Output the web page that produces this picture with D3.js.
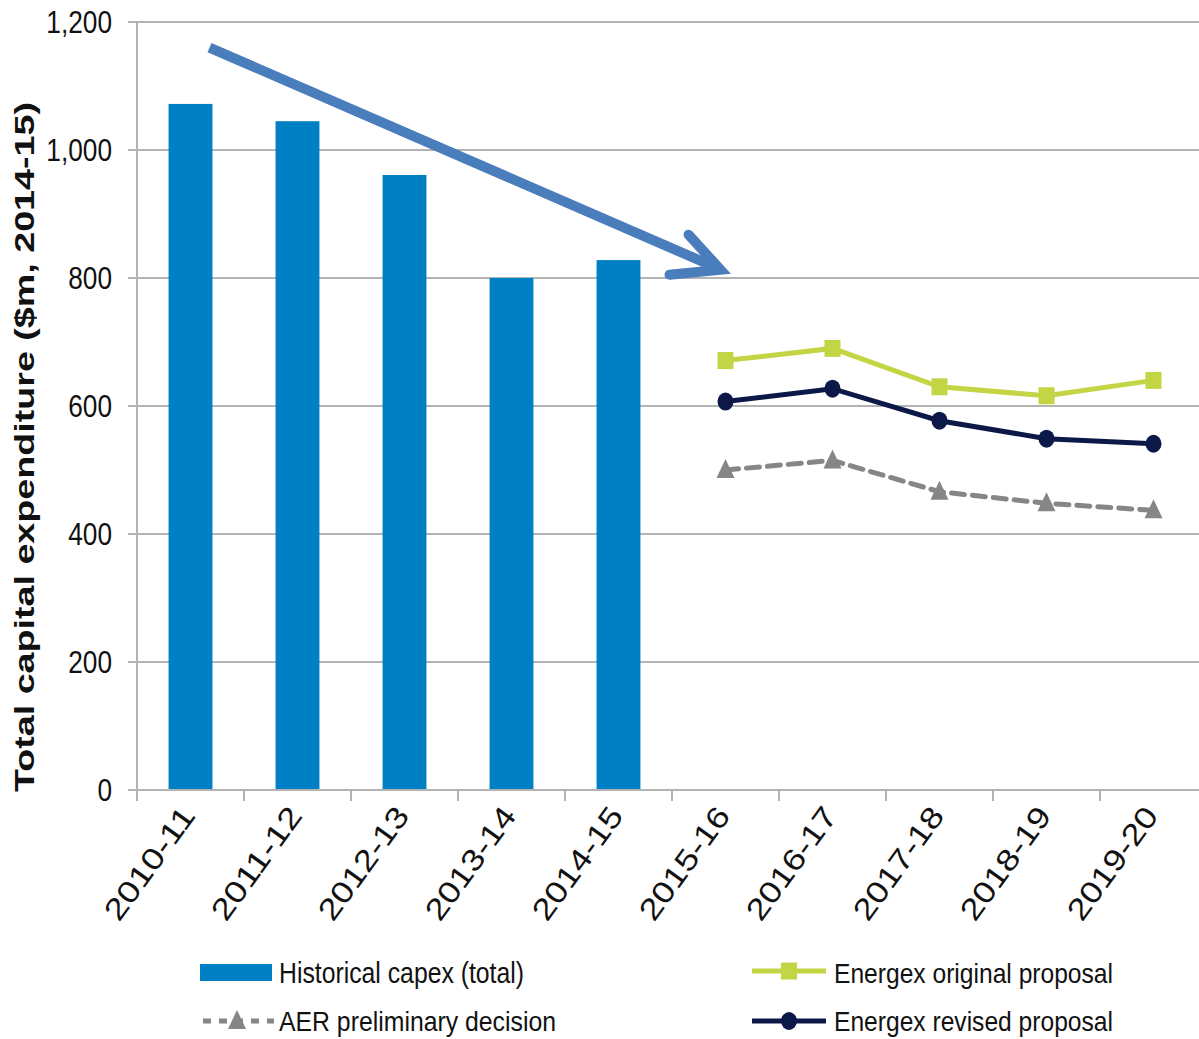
<!DOCTYPE html>
<html>
<head>
<meta charset="utf-8">
<style>
  body { margin: 0; background: #fff; }
  text { font-family: "Liberation Sans", Arial, sans-serif; fill: #111; }
</style>
</head>
<body>
<svg id="chart" width="1199" height="1039"></svg>
<script src="https://cdn.jsdelivr.net/npm/d3@7"></script>
<script>
const categories = ["2010-11", "2011-12", "2012-13", "2013-14", "2014-15",
                    "2015-16", "2016-17", "2017-18", "2018-19", "2019-20"];
const historicalCats = categories.slice(0, 5);
const forecastCats = categories.slice(5);
const historicalCapex = [1072, 1045, 961, 800, 828];
const originalProposal = [671, 690, 630, 616, 640];
const revisedProposal = [607, 627, 577, 549, 541];
const aerDecision = [500, 515, 466, 448, 437];
const yTicks = [0, 200, 400, 600, 800, 1000, 1200];

const svg = d3.select('#chart');
const plotLeft = 137, plotRight = 1207, plotTop = 22, plotBottom = 790;

const x = d3.scaleBand().domain(categories).range([plotLeft, plotRight])
  .paddingInner(0.59).paddingOuter(0.295);
const y = d3.scaleLinear().domain([0, 1200]).range([plotBottom, plotTop]);
const cx = (c) => x(c) + x.bandwidth() / 2;
const edge = (c) => x(c) - x.step() * x.paddingInner() / 2;

// text squeezed horizontally, like the source image
function squeezed(g, px, py, txt, size, anchor, sx) {
  return g.append('g').attr('transform', `translate(${px},${py}) scale(${sx || 0.82},1)`)
    .append('text').attr('text-anchor', anchor || 'start')
    .style('font-size', size + 'px').text(txt);
}

// grid
svg.append('g').selectAll('line').data(yTicks.slice(1)).enter().append('line')
  .attr('x1', plotLeft).attr('x2', 1199)
  .attr('y1', (d) => y(d)).attr('y2', (d) => y(d))
  .attr('stroke', '#b3b3b3').attr('stroke-width', 2);

// y axis
svg.append('line').attr('x1', plotLeft).attr('x2', plotLeft).attr('y1', plotTop).attr('y2', plotBottom)
  .attr('stroke', '#b3b3b3').attr('stroke-width', 2);
svg.append('g').selectAll('line').data(yTicks).enter().append('line')
  .attr('x1', plotLeft - 9).attr('x2', plotLeft)
  .attr('y1', (d) => y(d)).attr('y2', (d) => y(d))
  .attr('stroke', '#b3b3b3').attr('stroke-width', 2);
const yl = svg.append('g');
yTicks.forEach((d) => squeezed(yl, 112, y(d) + 11, d3.format(',')(d), 32, 'end'));

svg.append('text')
  .attr('transform', `translate(34,${(plotBottom + 100) / 2 + 2}) rotate(-90)`)
  .attr('text-anchor', 'middle')
  .attr('textLength', 690).attr('lengthAdjust', 'spacingAndGlyphs')
  .style('font-size', '27px').style('font-weight', 'bold')
  .text('Total capital expenditure ($m, 2014-15)');

// bars
svg.append('g').selectAll('rect').data(historicalCats).enter().append('rect')
  .attr('x', (c) => x(c)).attr('width', x.bandwidth())
  .attr('y', (c, i) => y(historicalCapex[i]))
  .attr('height', (c, i) => plotBottom - y(historicalCapex[i]))
  .attr('fill', '#0080c4');

// x axis
svg.append('line').attr('x1', plotLeft).attr('x2', 1199).attr('y1', plotBottom).attr('y2', plotBottom)
  .attr('stroke', '#b3b3b3').attr('stroke-width', 2);
svg.append('g').selectAll('line').data(categories).enter().append('line')
  .attr('x1', (c) => edge(c)).attr('x2', (c) => edge(c))
  .attr('y1', plotBottom).attr('y2', plotBottom + 11)
  .attr('stroke', '#b3b3b3').attr('stroke-width', 2);
svg.append('g').selectAll('text').data(categories).enter().append('text')
  .attr('transform', (c) => `translate(${cx(c) + 6},${plotBottom + 26}) rotate(-54)`)
  .attr('text-anchor', 'end')
  .attr('textLength', 132).attr('lengthAdjust', 'spacingAndGlyphs')
  .style('font-size', '30px').text((c) => c);

// lines
const line = d3.line().x((d) => cx(d[0])).y((d) => y(d[1]));
const series = [
  {name: 'AER preliminary decision', values: aerDecision, color: '#868686', dash: '13,8', marker: 'triangle'},
  {name: 'Energex original proposal', values: originalProposal, color: '#c3d545', dash: null, marker: 'square'},
  {name: 'Energex revised proposal', values: revisedProposal, color: '#0b1848', dash: null, marker: 'circle'}
];

function marker(g, kind, px, py, color) {
  if (kind === 'square') {
    g.append('rect').attr('x', px - 8).attr('y', py - 8.5).attr('width', 16).attr('height', 17).attr('fill', color);
  } else if (kind === 'circle') {
    g.append('ellipse').attr('cx', px).attr('cy', py).attr('rx', 8).attr('ry', 9).attr('fill', color);
  } else {
    g.append('path').attr('d', `M${px},${py - 11}L${px + 9},${py + 8}L${px - 9},${py + 8}Z`).attr('fill', color);
  }
}

series.forEach((s) => {
  const pts = forecastCats.map((c, i) => [c, s.values[i]]);
  const g = svg.append('g');
  g.append('path').datum(pts).attr('d', line)
    .attr('fill', 'none').attr('stroke', s.color).attr('stroke-width', 5)
    .attr('stroke-dasharray', s.dash).attr('stroke-linecap', s.dash ? 'round' : 'butt');
  pts.forEach((p) => marker(g, s.marker, cx(p[0]), y(p[1]), s.color));
});

// trend arrow
const ax0 = cx(categories[0]) + 19, ay0 = y(1160);
const ax1 = cx(categories[5]) - 5, ay1 = y(813);
const arrow = svg.append('g').attr('stroke', '#4a7dbb').attr('fill', 'none')
  .attr('stroke-width', 10);
arrow.append('line').attr('x1', ax0).attr('y1', ay0).attr('x2', ax1 - 4).attr('y2', ay1 - 2);
arrow.append('path').attr('stroke-linecap', 'round').attr('stroke-linejoin', 'miter')
  .attr('d', `M${ax1 - 32},${ay1 - 35}L${ax1},${ay1}L${ax1 - 51},${ay1 + 5}`);

// legend
const lg = svg.append('g');
lg.append('rect').attr('x', 200).attr('y', 964).attr('width', 72).attr('height', 17).attr('fill', '#0080c4');
lg.append('text').attr('x', 279).attr('y', 983).attr('textLength', 245).attr('lengthAdjust', 'spacingAndGlyphs')
  .style('font-size', '29px').text('Historical capex (total)');

const legendPos = [
  {s: series[0], x: 200, y: 1021},
  {s: series[1], x: 752, y: 971},
  {s: series[2], x: 752, y: 1021}
];
legendPos.forEach((p) => {
  lg.append('line').attr('x1', p.x + (p.s.dash ? 3 : 0)).attr('x2', p.x + 74)
    .attr('y1', p.y).attr('y2', p.y)
    .attr('stroke', p.s.color).attr('stroke-width', 5)
    .attr('stroke-dasharray', p.s.dash ? '8,8' : null);
  marker(lg, p.s.marker, p.x + 37, p.y, p.s.color);
  lg.append('text').attr('x', p.x + (p.s.dash ? 79 : 82)).attr('y', p.y + (p.y > 1000 ? 10 : 12))
    .attr('textLength', p.s.dash ? 277 : 279).attr('lengthAdjust', 'spacingAndGlyphs')
    .style('font-size', '28px').text(p.s.name);
});
</script>
</body>
</html>
